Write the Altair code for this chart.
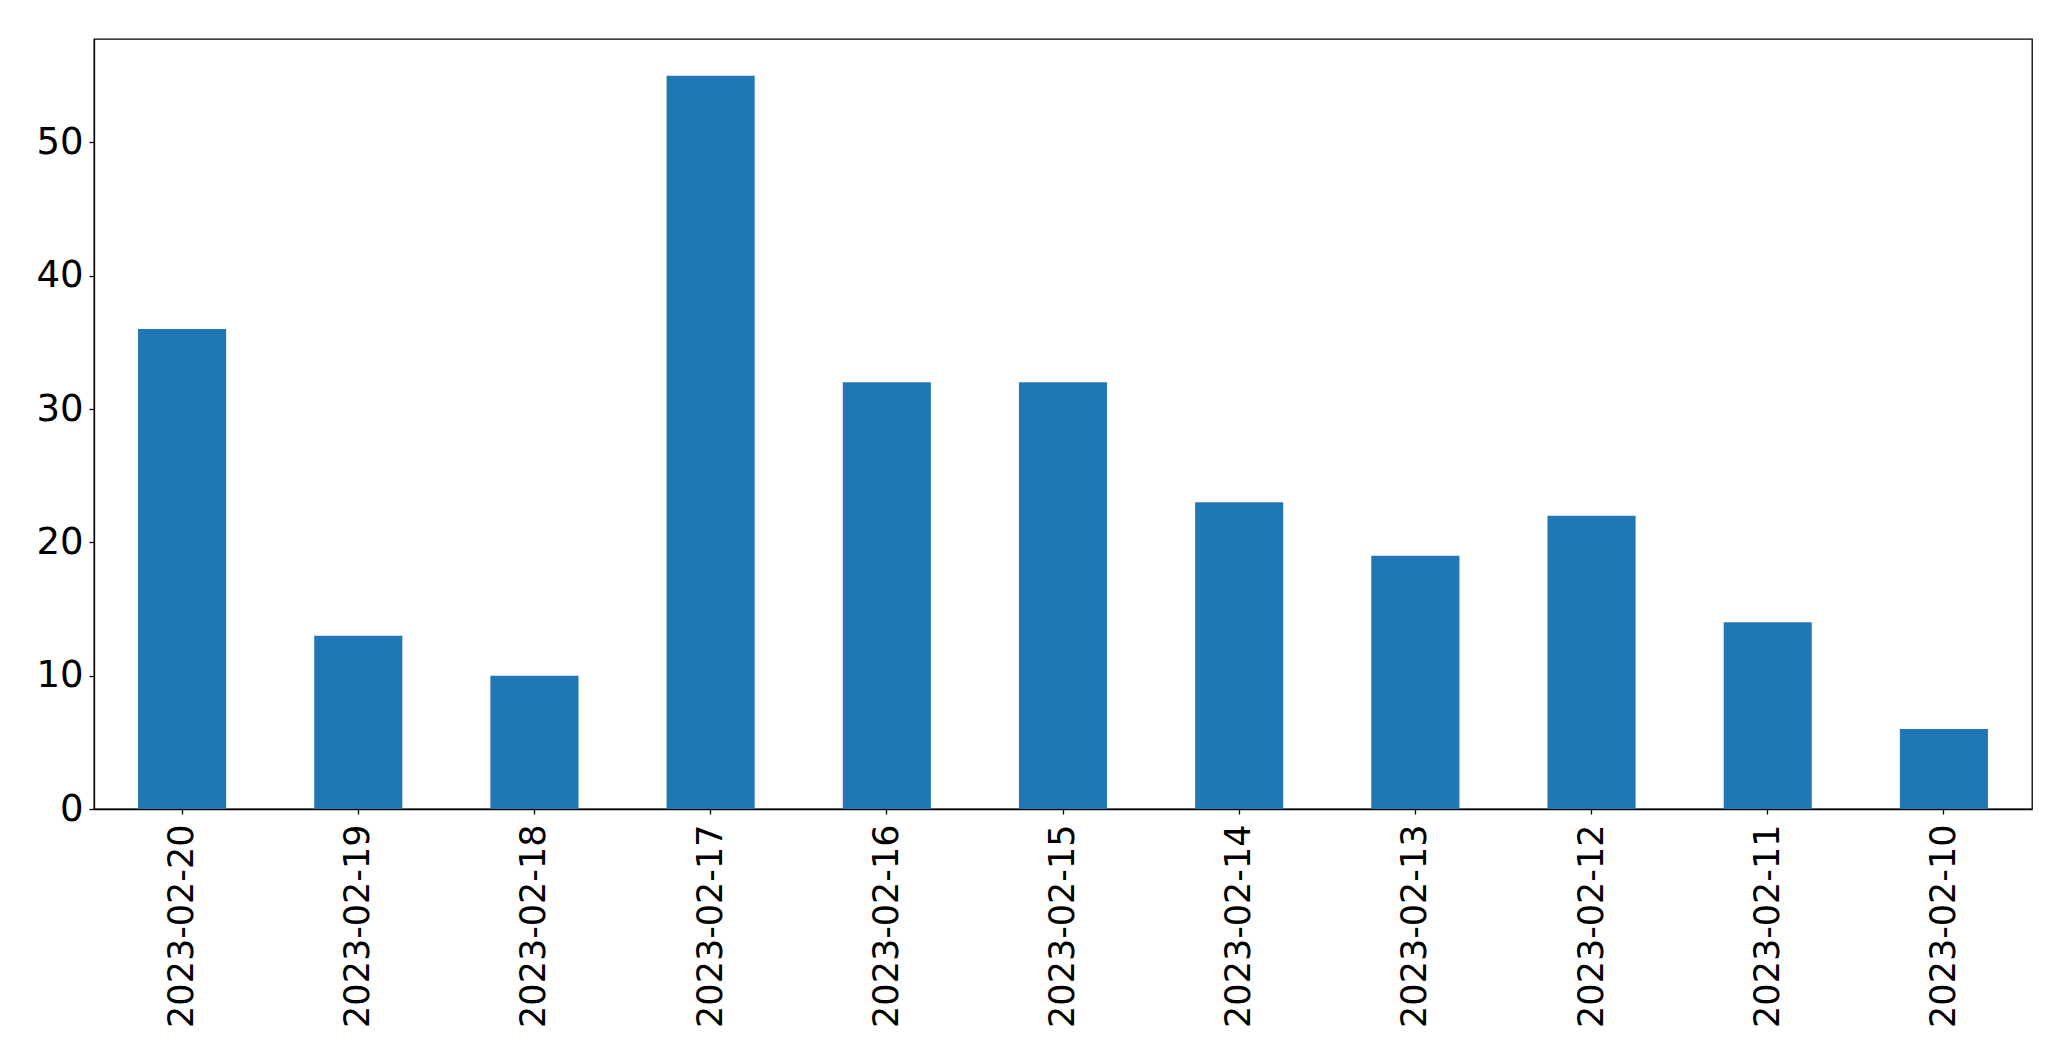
import altair as alt
import pandas as pd

dates = ["2023-02-20", "2023-02-19", "2023-02-18", "2023-02-17", "2023-02-16",
         "2023-02-15", "2023-02-14", "2023-02-13", "2023-02-12", "2023-02-11", "2023-02-10"]
counts = [36, 13, 10, 55, 32, 32, 23, 19, 22, 14, 6]

df = pd.DataFrame({"date": dates, "count": counts})

chart = alt.Chart(df).mark_bar(color="#1f77b4").encode(
    x=alt.X("date:N", sort=dates, title=None,
            scale=alt.Scale(paddingInner=0.5, paddingOuter=0.25),
            axis=alt.Axis(labelAngle=-90, labelFontSize=35, labelColor="black",
                          labelFont="DejaVu Sans", labelLimit=0, tickColor="black", tickSize=5,
                          tickWidth=1.3, domainColor="black", domainWidth=1.3,
                          labelPadding=10)),
    y=alt.Y("count:Q", title=None,
            scale=alt.Scale(domain=[0, 57.75], nice=False, zero=True),
            axis=alt.Axis(values=[0, 10, 20, 30, 40, 50], grid=False, labelFontSize=37,
                          labelColor="black", labelFont="DejaVu Sans", tickColor="black",
                          tickSize=5, tickWidth=1.3, domainColor="black", domainWidth=1.3,
                          labelPadding=6)),
).properties(
    width=1938, height=770,
    background="white",
    autosize=alt.AutoSizeParams(type="none"),
    padding={"left": 86, "top": 31, "right": 30, "bottom": 240},
).configure_view(stroke="black", strokeWidth=1.3)

chart.save("out.html", embed_options={"renderer": "svg", "actions": False})
